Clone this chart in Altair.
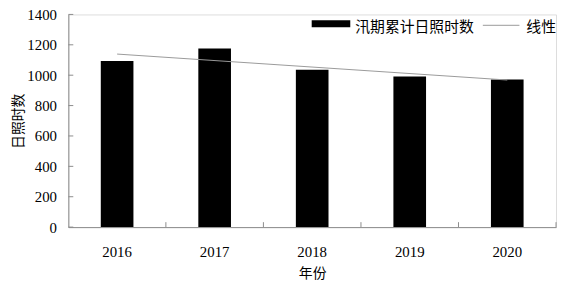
import altair as alt
import pandas as pd

years = ["2016", "2017", "2018", "2019", "2020"]
hours = [1093, 1176, 1036, 991, 972]
year_num = [2016, 2017, 2018, 2019, 2020]
y_ticks = [0, 200, 400, 600, 800, 1000, 1200, 1400]
legend_labels = ["汛期累计日照时数", "线性"]

df = pd.DataFrame({"year": years, "hours": hours, "yn": year_num})
tick_df = pd.DataFrame({"v": y_ticks})

W, H = 493, 215
LEFT = 61
NUM_FONT = "Liberation Serif"
CJK_FONT = "Noto Sans CJK SC"
AXIS_COLOR = "#8c8c8c"

xscale = alt.Scale(paddingInner=0, paddingOuter=0)
yscale = alt.Scale(domain=[0, 1400])

x_axis = alt.Axis(title="年份", labelAngle=0, tickSize=0, labelPadding=18,
                  labelFont=NUM_FONT, labelFontSize=15, labelColor="black",
                  titleFont=CJK_FONT, titleFontSize=14, titleFontWeight="normal",
                  titlePadding=7, domainColor=AXIS_COLOR, titleColor="black")
y_axis = alt.Axis(title="日照时数", values=y_ticks, tickSize=0, labelPadding=12,
                  grid=False, labelFont=NUM_FONT, labelFontSize=15, labelColor="black",
                  labelOverlap=False, format="d",
                  titleFont=CJK_FONT, titleFontSize=14, titleFontWeight="normal",
                  titlePadding=1, domainColor=AXIS_COLOR, titleColor="black")

bars = alt.Chart(df).mark_bar(size=33, color="black").encode(
    x=alt.X("year:N", scale=xscale, sort=years, axis=x_axis),
    y=alt.Y("hours:Q", scale=yscale, axis=y_axis))

trend = alt.Chart(df).transform_regression("yn", "hours", method="linear", extent=[2016, 2020]) \
    .transform_calculate(year="toString(datum.yn)") \
    .mark_line(color="#9a9a9a", strokeWidth=1).encode(
        x=alt.X("year:N", sort=years, scale=xscale, axis=x_axis),
        y=alt.Y("hours:Q", scale=yscale, axis=y_axis))

xticks = alt.Chart(df).mark_rule(color=AXIS_COLOR, strokeWidth=1).encode(
    x=alt.X("year:N", sort=years, scale=xscale, bandPosition=1, axis=x_axis),
    y=alt.value(H - 5), y2=alt.value(H))

yticks = alt.Chart(tick_df).mark_rule(color=AXIS_COLOR, strokeWidth=1).encode(
    y=alt.Y("v:Q", scale=yscale, axis=y_axis), x=alt.value(0), x2=alt.value(5))

OFF = 67 - (8 + LEFT)
leg_df = pd.DataFrame({"label": legend_labels})
leg_rect = alt.Chart(leg_df.iloc[[0]]).mark_rect(color="black").encode(
    x=alt.value(248 + OFF), x2=alt.value(287 + OFF), y=alt.value(6), y2=alt.value(13))
leg_text1 = alt.Chart(leg_df.iloc[[0]]).mark_text(align="left", baseline="middle",
    font=CJK_FONT, fontSize=15, color="black").encode(
    x=alt.value(292 + OFF), y=alt.value(13), text="label:N")
leg_line = alt.Chart(leg_df.iloc[[1]]).mark_rule(color="#9a9a9a", strokeWidth=1).encode(
    x=alt.value(421 + OFF), x2=alt.value(458 + OFF), y=alt.value(11))
leg_text2 = alt.Chart(leg_df.iloc[[1]]).mark_text(align="left", baseline="middle",
    font=CJK_FONT, fontSize=15, color="black").encode(
    x=alt.value(465 + OFF), y=alt.value(13), text="label:N")

chart = alt.layer(bars, trend, xticks, yticks, leg_rect, leg_text1, leg_line, leg_text2).properties(
    width=W, height=H,
    autosize=alt.AutoSizeParams(type="none"),
    padding={"left": LEFT, "top": 5, "right": 3, "bottom": 55},
).configure_view(stroke=None).configure(background="white")

chart.save("out.html", embed_options={"renderer": "svg", "actions": False})
